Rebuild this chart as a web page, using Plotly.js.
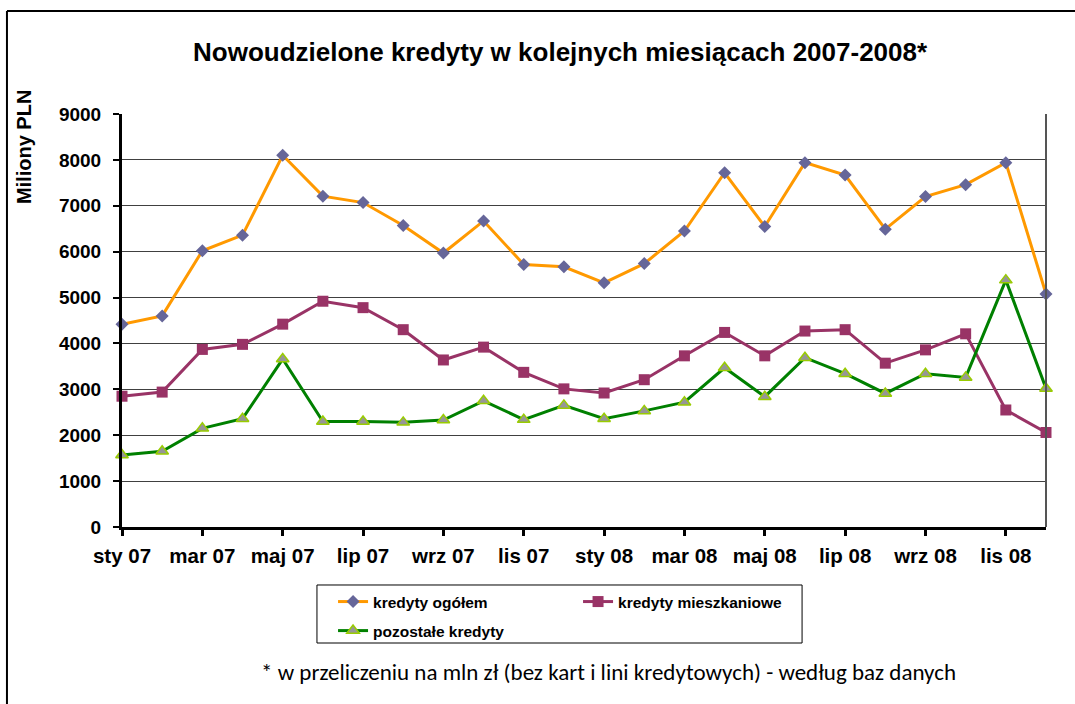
<!DOCTYPE html>
<html>
<head>
<meta charset="utf-8">
<script src="https://cdn.plot.ly/plotly-3.0.1.min.js"></script>
<style>html,body{margin:0;padding:0;background:#fff;}</style>
</head>
<body>
<div id="chart" style="width:1075px;height:704px;"></div>
<script>
var months = ["sty 07","lut 07","mar 07","kwi 07","maj 07","cze 07","lip 07","sie 07","wrz 07","paź 07","lis 07","gru 07",
              "sty 08","lut 08","mar 08","kwi 08","maj 08","cze 08","lip 08","sie 08","wrz 08","paź 08","lis 08","gru 08"];
var kredytyOgolem = [4420,4600,6020,6360,8100,7210,7070,6570,5970,6670,5720,5670,
                     5320,5740,6450,7720,6550,7940,7670,6490,7200,7460,7940,5080];
var kredytyMieszkaniowe = [2850,2940,3870,3980,4420,4920,4780,4300,3640,3920,3370,3010,
                           2920,3210,3730,4240,3730,4270,4300,3570,3860,4210,2550,2060];
var pozostaleKredyty = [1570,1650,2150,2360,3660,2300,2300,2280,2330,2750,2340,2650,
                        2360,2530,2720,3470,2840,3690,3340,2910,3340,3260,5380,3020];
var tickLabels = ["sty 07","mar 07","maj 07","lip 07","wrz 07","lis 07","sty 08","mar 08","maj 08","lip 08","wrz 08","lis 08"];
var seriesNames = ["kredyty ogółem","kredyty mieszkaniowe","pozostałe kredyty"];

var F = "Arial, 'Liberation Sans', sans-serif";

var traces = [
  {x: months, y: kredytyOgolem, name: "<b>" + seriesNames[0] + "</b>", type: "scatter", mode: "lines+markers",
   line: {color: "#FF9900", width: 3}, cliponaxis: false,
   marker: {symbol: "diamond", size: 10, color: "#666699", line: {width: 0}}, legend: "legend"},
  {x: months, y: kredytyMieszkaniowe, name: "<b>" + seriesNames[1] + "</b>", type: "scatter", mode: "lines+markers",
   line: {color: "#993366", width: 3}, cliponaxis: false,
   marker: {symbol: "square", size: 11, color: "#993366", line: {width: 0}}, legend: "legend"},
  {x: months, y: pozostaleKredyty, name: "<b>" + seriesNames[2] + "</b>", type: "scatter", mode: "lines+markers",
   line: {color: "#008000", width: 3}, cliponaxis: false,
   marker: {symbol: "triangle-up", size: 11, color: "#969696", line: {width: 1.5, color: "#99CC00"}}, legend: "legend2"}
];

var layout = {
  width: 1075, height: 704,
  margin: {l: 122, r: 29, t: 114, b: 177, pad: 0},
  paper_bgcolor: "#fff", plot_bgcolor: "#fff",
  font: {family: F, color: "#000"},
  title: {text: "<b>Nowoudzielone kredyty w kolejnych miesiącach 2007-2008*</b>",
          font: {family: F, size: 26, color: "#000"},
          x: 0.521, xref: "container", xanchor: "center",
          y: 0.926, yref: "container", yanchor: "middle"},
  xaxis: {type: "category", categoryorder: "array", categoryarray: months,
          range: [0, 23], tickmode: "array", tickvals: tickLabels, ticktext: tickLabels.map(function(t){return "<b>"+t+"</b>";}),
          showline: true, linecolor: "#000", linewidth: 3,
          ticks: "outside", ticklen: 6, tickwidth: 3, tickcolor: "#000",
          showgrid: false, zeroline: false, ticklabelstandoff: 2,
          tickfont: {family: F, size: 20.5, color: "#000"}},
  yaxis: {range: [0, 9000], dtick: 1000, tick0: 0,
          showline: true, linecolor: "#000", linewidth: 3,
          ticks: "outside", ticklen: 6, tickwidth: 2, tickcolor: "#000",
          showgrid: true, gridcolor: "#404040", gridwidth: 1, zeroline: false,
          ticklabelstandoff: 8, tickprefix: "<b>", ticksuffix: "</b>",
          tickfont: {family: F, size: 19, color: "#000"}},
  legend: {orientation: "h", x: 0.2284, xanchor: "left", y: -0.1404, yanchor: "top",
           entrywidth: 200, entrywidthmode: "pixels", bgcolor: "rgba(0,0,0,0)",
           font: {family: F, size: 15.5, color: "#000"}, itemwidth: 30},
  legend2: {orientation: "h", x: 0.2284, xanchor: "left", y: -0.2107, yanchor: "top",
           bgcolor: "rgba(0,0,0,0)",
           font: {family: F, size: 15.5, color: "#000"}, itemwidth: 30},
  shapes: [
    {type: "line", xref: "paper", yref: "paper", x0: 1, x1: 1, y0: 0, y1: 1, line: {color: "#555", width: 2}},
    {type: "rect", xref: "paper", yref: "paper", x0: 0.211, x1: 0.736, y0: -0.2809, y1: -0.1404, line: {color: "#000", width: 1}},
    {type: "line", xref: "paper", yref: "paper", x0: -0.1245, x1: 1.04, y0: 1.2494, y1: 1.2494, line: {color: "#000", width: 2}},
    {type: "line", xref: "paper", yref: "paper", x0: -0.1245, x1: -0.1245, y0: 1.2494, y1: -0.45, line: {color: "#000", width: 2}}
  ],
  annotations: [
    {text: "<b>Miliony PLN</b>", xref: "paper", yref: "paper", x: -0.106, y: 0.92, textangle: -90,
     showarrow: false, xanchor: "center", yanchor: "middle", font: {family: F, size: 20, color: "#000"}},
    {text: "* w przeliczeniu na mln zł (bez kart i lini kredytowych) - według baz danych", xref: "paper", yref: "paper",
     x: 0.527, y: -0.351, showarrow: false, xanchor: "center", yanchor: "middle",
     font: {family: "Carlito, Calibri, Lato, sans-serif", size: 23, color: "#000"}}
  ]
};

Plotly.newPlot("chart", traces, layout, {displayModeBar: false, staticPlot: true});
</script>
</body>
</html>
